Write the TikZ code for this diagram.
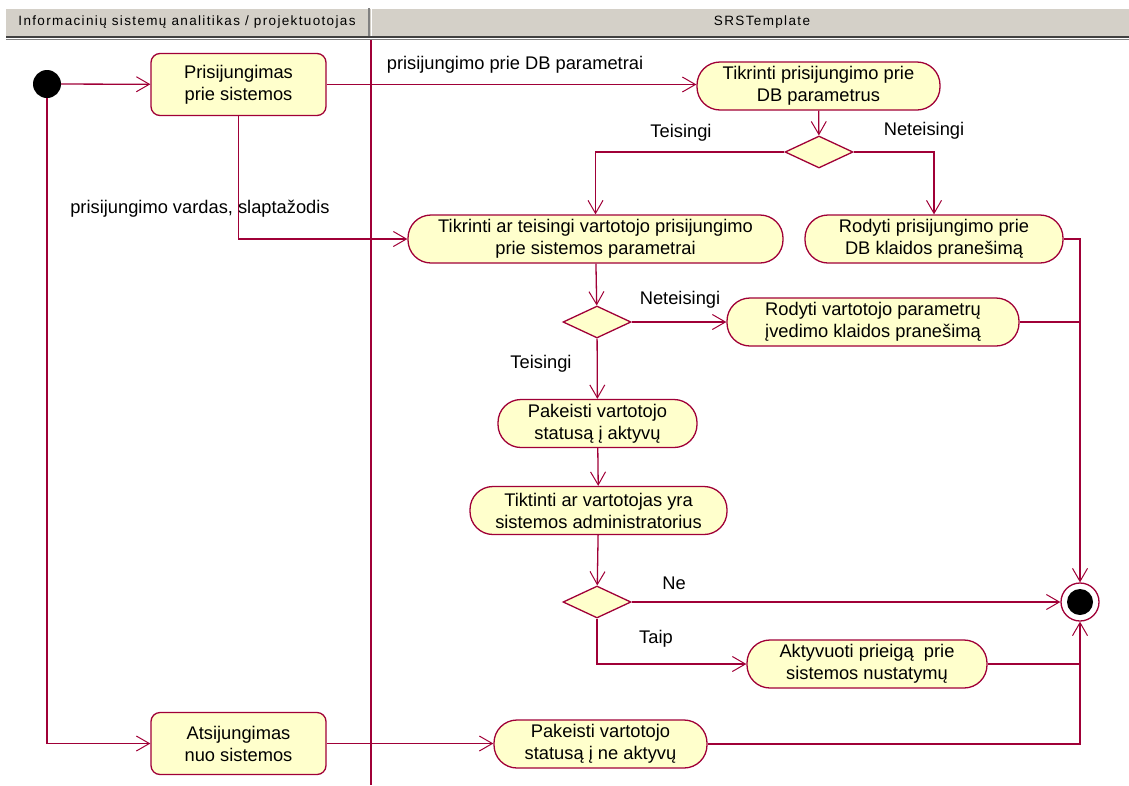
\documentclass[tikz,border=0pt]{standalone}
\usepackage{fontspec}
\setmainfont{Liberation Sans}
\usetikzlibrary{arrows.meta,shapes.geometric}
\definecolor{edge}{RGB}{160,0,55}
\definecolor{actfill}{RGB}{255,255,204}
\definecolor{hdr}{RGB}{212,208,200}
\definecolor{hdrdark}{RGB}{64,64,64}
\begin{document}
\begin{tikzpicture}[x=1pt,y=-1pt,
  activity/.style={draw=edge, fill=actfill, line width=1.3pt, rounded corners=23pt,
    minimum height=48pt, align=center, inner sep=0pt,
    font=\fontsize{18.3}{22}\selectfont},
  statebox/.style={draw=edge, fill=actfill, line width=1.3pt, rounded corners=9pt,
    minimum width=175pt, minimum height=62pt, align=center, inner sep=0pt,
    font=\fontsize{18.3}{22}\selectfont},
  decision/.style={diamond, draw=edge, fill=actfill, line width=1.3pt,
    minimum width=68pt, minimum height=32pt, inner sep=0pt, aspect=2.1},
  flow/.style={draw=edge, line width=1.3pt, -{Straight Barb[length=13pt,width=15pt,line width=1pt]}},
  joinline/.style={draw=edge, line width=1.3pt},
  lbl/.style={font=\fontsize{18.3}{22}\selectfont, inner sep=0pt},
  hdrtext/.style={font=\fontsize{13.5}{15}\selectfont\addfontfeature{LetterSpace=10}, inner sep=0pt}
]
\useasboundingbox (0,0) rectangle (1129,785);

% swimlane header
\fill[hdr] (6,8) rectangle (1129,36);
\draw[white, line width=1pt] (6,8.5) -- (1129,8.5);
\draw[gray, line width=1.2pt] (369,8) -- (369,36);
\draw[white, line width=1pt] (371,8) -- (371,36);
\draw[hdrdark, line width=1.6pt] (6,37) -- (1129,37);
\draw[gray, line width=1pt] (6,39.5) -- (1129,39.5);
\node[hdrtext] (lane1) at (187,22) {Informacinių sistemų analitikas / projektuotojas};
\node[hdrtext] (lane2) at (762,22) {SRSTemplate};

% lane separator
\draw[edge, line width=1.3pt] (371,40) -- (371,785);

% start and end
\node[circle, fill=black, minimum size=28pt, inner sep=0pt] (init) at (47,84) {};
\node[circle, draw=edge, fill=white, line width=1.3pt, minimum size=38pt, inner sep=0pt] (final) at (1080,602) {};
\node[circle, fill=black, minimum size=26pt, inner sep=0pt] (finalin) at (final) {};

% actions
\node[statebox] (prisij) at (238.5,84.5) {Prisijungimas\\prie sistemos};
\node[statebox] (ats) at (238.5,743.5) {Atsijungimas\\nuo sistemos};
\node[activity, minimum width=243pt] (tdb) at (818.5,86) {Tikrinti prisijungimo prie\\DB parametrus};
\node[decision] (d1) at (819,152) {};
\node[activity, minimum width=375pt] (tat) at (595.5,239) {Tikrinti ar teisingi vartotojo prisijungimo\\prie sistemos parametrai};
\node[activity, minimum width=258pt] (rdb) at (934,239) {Rodyti prisijungimo prie\\DB klaidos pranešimą};
\node[decision] (d2) at (597,322) {};
\node[activity, minimum width=292pt] (rvp) at (873,322) {Rodyti vartotojo parametrų\\įvedimo klaidos pranešimą};
\node[activity, minimum width=199pt] (pak) at (597.5,423.5) {Pakeisti vartotojo\\statusą į aktyvų};
\node[activity, minimum width=257pt] (adm) at (598.5,510.5) {Tiktinti ar vartotojas yra\\sistemos administratorius};
\node[decision] (d3) at (597,602) {};
\node[activity, minimum width=240pt] (akt) at (867,664) {Aktyvuoti prieigą\ \ prie\\sistemos nustatymų};
\node[activity, minimum width=213pt] (pna) at (600.5,744) {Pakeisti vartotojo\\statusą į ne aktyvų};

% flows
\draw[flow] (init) -- (prisij);
\draw[flow] (prisij.east) -- (prisij.east -| tdb.west);
\draw[flow] (tdb) -- (d1);
\draw[flow] (d1.west) -| (tat.north);
\draw[flow] (d1.east) -| (rdb.north);
\draw[flow] (prisij.south) |- (tat.west);
\draw[flow] (tat) -- (d2);
\draw[flow] (d2.east) -- (rvp.west);
\draw[flow] (d2) -- (pak);
\draw[flow] (pak) -- (adm);
\draw[flow] (adm) -- (d3);
\draw[flow] (d3.east) -- (final.west);
\draw[flow] (d3.south) |- (akt.west);
\draw[flow] (rdb.east) -| (final.north);
\draw[joinline] (rvp.east) -- (rvp.east -| final.center);
\draw[joinline] (akt.east) -- (akt.east -| final.center);
\draw[flow] (init.south) |- (ats.west);
\draw[flow] (ats.east) -- (ats.east -| pna.west);
\draw[flow] (pna.east) -| (final.south);

% guard and object labels
\node[lbl] (lparam) at (515,65) {prisijungimo prie DB parametrai};
\node[lbl] (lt1) at (681,133) {Teisingi};
\node[lbl] (ln1) at (924,131) {Neteisingi};
\node[lbl] (lvard) at (200,209) {prisijungimo vardas, slaptažodis};
\node[lbl] (ln2) at (680,300) {Neteisingi};
\node[lbl] (lt2) at (541,364) {Teisingi};
\node[lbl] (lne) at (674,583) {Ne};
\node[lbl] (ltaip) at (656,639) {Taip};
\end{tikzpicture}
\end{document}
